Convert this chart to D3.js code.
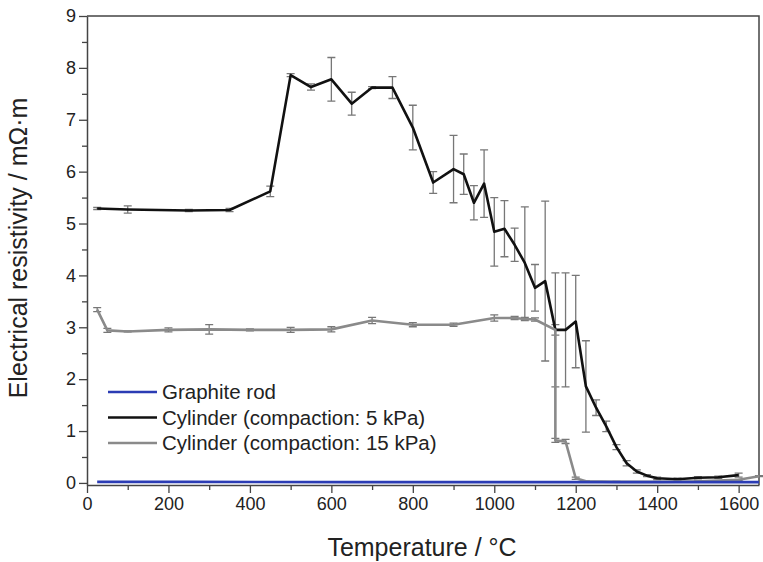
<!DOCTYPE html>
<html>
<head>
<meta charset="utf-8">
<script src="https://cdn.jsdelivr.net/npm/d3@7/dist/d3.min.js"></script>
<style>
  body { margin: 0; background: #fff; }
  svg { display: block; font-family: Arial, "Liberation Sans", sans-serif; }
</style>
</head>
<body>
<svg width="763" height="562"></svg>
<script>
// graphite rod
var rodT = [25, 250, 650, 1650];
var rodV = [0.02, 0.02, 0.015, 0.015];

// cylinder, compaction 5 kPa
var cyl5T = [25, 100, 250, 350, 450, 500, 550, 600, 650, 700, 750, 800, 850, 900, 925, 950, 975, 1000, 1025, 1050, 1075, 1100, 1125, 1150, 1175, 1200, 1225, 1250, 1275, 1300, 1325, 1350, 1375, 1400, 1450, 1500, 1550, 1600];
var cyl5V = [5.29, 5.27, 5.25, 5.26, 5.62, 7.86, 7.63, 7.78, 7.31, 7.62, 7.62, 6.85, 5.79, 6.05, 5.95, 5.40, 5.77, 4.84, 4.90, 4.59, 4.24, 3.76, 3.89, 2.95, 2.95, 3.11, 1.86, 1.45, 1.09, 0.69, 0.38, 0.22, 0.14, 0.09, 0.07, 0.10, 0.11, 0.15];
var cyl5E = [0.02, 0.07, 0.02, 0.03, 0.10, 0.03, 0.06, 0.42, 0.22, 0.02, 0.21, 0.43, 0.21, 0.65, 0.39, 0.33, 0.65, 0.66, 0.54, 0.32, 1.08, 0.45, 1.54, 1.10, 1.10, 0.89, 0.88, 0.15, 0.10, 0.05, 0.05, 0.03, 0.02, 0.02, 0.02, 0.02, 0.02, 0.04];

// cylinder, compaction 15 kPa
var cyl15T = [25, 50, 100, 200, 300, 400, 500, 600, 700, 800, 900, 1000, 1050, 1075, 1100, 1150, 1150, 1175, 1200, 1225, 1300, 1400, 1500, 1600, 1650];
var cyl15V = [3.34, 2.94, 2.92, 2.95, 2.96, 2.95, 2.95, 2.96, 3.13, 3.05, 3.05, 3.18, 3.18, 3.16, 3.15, 2.95, 0.82, 0.80, 0.09, 0.03, 0.02, 0.02, 0.03, 0.06, 0.13];
var cyl15E = [0.04, 0.04, 0.01, 0.04, 0.09, 0.02, 0.05, 0.05, 0.06, 0.04, 0.03, 0.06, 0.03, 0.03, 0.03, 0.10, 0.04, 0.04, 0.02, 0.01, 0.01, 0.01, 0.01, 0.01, 0.01];

var legendNames = ["Graphite rod", "Cylinder (compaction: 5 kPa)", "Cylinder (compaction: 15 kPa)"];
var colors = ["#2b3cb4", "#111111", "#8a8a8a"];

var svg = d3.select("svg");

// scales
var x = d3.scaleLinear().domain([0, 1650]).range([87, 759]);
var y = d3.scaleLinear().domain([-0.04, 9]).range([485, 16]);

function pts(T, V, E) {
  return T.map(function(t, i) { return {t: t, v: V[i], e: E ? E[i] : 0}; });
}
var rod = pts(rodT, rodV);
var cyl5 = pts(cyl5T, cyl5V, cyl5E);
var cyl15 = pts(cyl15T, cyl15V, cyl15E);

var line = d3.line()
  .x(function(d) { return x(d.t); })
  .y(function(d) { return y(d.v); });

// frame top and right
svg.append("path")
  .attr("d", "M" + x(0) + "," + y(9) + "H" + x(1650) + "V" + y(-0.04))
  .attr("fill", "none")
  .attr("stroke", "#444")
  .attr("stroke-width", 1.5);

// minor ticks
svg.append("g")
  .attr("transform", "translate(0," + y(-0.04) + ")")
  .call(d3.axisBottom(x).tickValues(d3.range(100, 1600, 200)).tickSize(5).tickFormat(""))
  .call(function(g) { g.select(".domain").remove(); });
svg.append("g")
  .attr("transform", "translate(" + x(0) + ",0)")
  .call(d3.axisLeft(y).tickValues(d3.range(0.5, 9, 1)).tickSize(5).tickFormat(""))
  .call(function(g) { g.select(".domain").remove(); });

// major axes
svg.append("g")
  .attr("transform", "translate(0," + y(-0.04) + ")")
  .call(d3.axisBottom(x).tickValues(d3.range(0, 1601, 200)).tickFormat(d3.format("d"))
    .tickSize(8).tickSizeOuter(0).tickPadding(4));
svg.append("g")
  .attr("transform", "translate(" + x(0) + ",0)")
  .call(d3.axisLeft(y).tickValues(d3.range(0, 10, 1)).tickFormat(d3.format("d"))
    .tickSize(8).tickSizeOuter(0).tickPadding(3));

svg.selectAll(".tick line").attr("stroke", "#444").attr("stroke-width", 1.3);
svg.selectAll(".domain").attr("stroke", "#444").attr("stroke-width", 1.5);
svg.selectAll(".tick text").attr("font-size", 18).attr("fill", "#222").attr("font-family", "Arial, 'Liberation Sans', sans-serif");

// axis titles
svg.append("text")
  .attr("x", 422).attr("y", 556)
  .attr("text-anchor", "middle")
  .attr("font-size", 25)
  .attr("fill", "#222")
  .text("Temperature / °C");
svg.append("text")
  .attr("transform", "translate(27,248) rotate(-90)")
  .attr("text-anchor", "middle")
  .attr("font-size", 25)
  .attr("fill", "#222")
  .text("Electrical resistivity / mΩ·m");

// error bars
function errorBars(data) {
  var g = svg.append("g").attr("stroke", "#777").attr("stroke-width", 1.3).attr("fill", "none");
  data.filter(function(d) { return d.e > 0; }).forEach(function(d) {
    var cx = x(d.t), y0 = y(d.v - d.e), y1 = y(d.v + d.e);
    g.append("path").attr("d",
      "M" + cx + "," + y0 + "V" + y1 +
      "M" + (cx - 4) + "," + y0 + "H" + (cx + 4) +
      "M" + (cx - 4) + "," + y1 + "H" + (cx + 4));
  });
}
errorBars(cyl5);
errorBars(cyl15);

// lines
svg.append("path").datum(cyl5)
  .attr("fill", "none").attr("stroke", colors[1]).attr("stroke-width", 2.6)
  .attr("stroke-linejoin", "round").attr("d", line);
svg.append("path").datum(cyl15)
  .attr("fill", "none").attr("stroke", colors[2]).attr("stroke-width", 2.6)
  .attr("stroke-linejoin", "round").attr("d", line);
svg.append("path").datum(rod)
  .attr("fill", "none").attr("stroke", colors[0]).attr("stroke-width", 2.6)
  .attr("d", line);

// legend
var legend = svg.append("g");
legendNames.forEach(function(name, i) {
  var ly = 392 + i * 25.5;
  legend.append("line")
    .attr("x1", 108).attr("x2", 157).attr("y1", ly).attr("y2", ly)
    .attr("stroke", colors[i]).attr("stroke-width", 2.6);
  legend.append("text")
    .attr("x", 162).attr("y", ly).attr("dy", "0.35em")
    .attr("font-size", 20.5).attr("fill", "#222")
    .text(name);
});
</script>
</body>
</html>
